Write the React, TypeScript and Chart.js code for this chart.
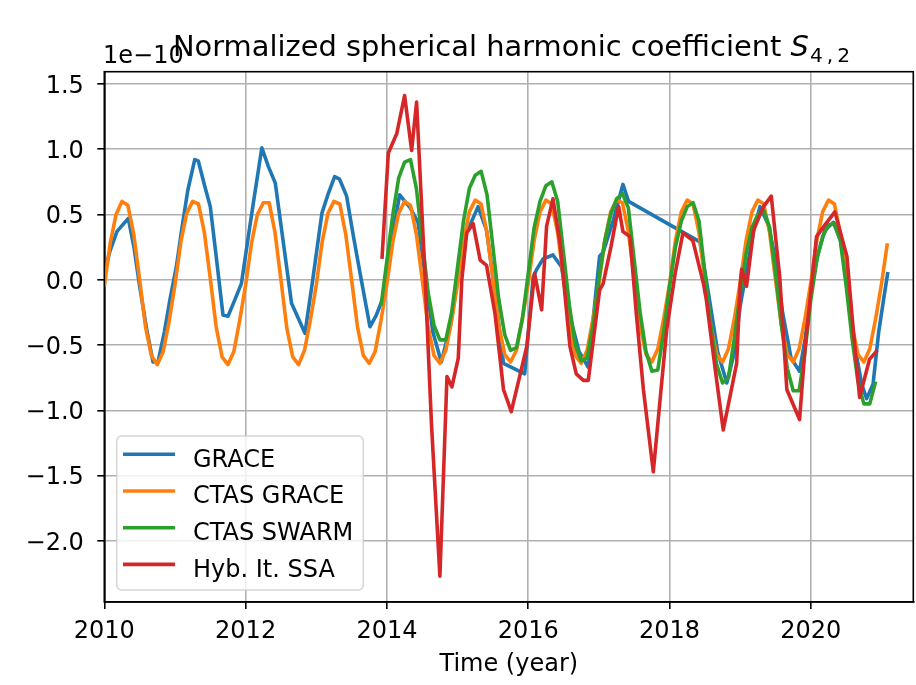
import React, { useEffect, useRef } from 'react';
import { Chart, registerables } from 'chart.js';
Chart.register(...registerables);

// ---- data (values in units of 1e-10) ----
const seriesLabels = ['GRACE', 'CTAS GRACE', 'CTAS SWARM', 'Hyb. It. SSA'];
const seriesColors = ['#1f77b4', '#ff7f0e', '#2ca02c', '#d62728'];

const graceTime = [
  2010.0, 2010.08, 2010.18, 2010.26, 2010.34, 2010.42, 2010.5, 2010.6, 2010.69, 2010.76, 2010.85, 2010.93,
  2011.02, 2011.1, 2011.18, 2011.28, 2011.33, 2011.42, 2011.5, 2011.59, 2011.68, 2011.75, 2011.85, 2011.94,
  2012.03, 2012.11, 2012.23, 2012.32, 2012.42, 2012.53, 2012.65, 2012.75, 2012.84, 2012.95,
  2013.08, 2013.17, 2013.26, 2013.33, 2013.43, 2013.52, 2013.62, 2013.76, 2013.85, 2013.95,
  2014.05, 2014.18, 2014.33, 2014.44, 2014.55, 2014.65, 2014.77, 2014.9,
  2015.0, 2015.12, 2015.29, 2015.41, 2015.53, 2015.65, 2015.95,
  2016.07, 2016.12, 2016.21, 2016.35, 2016.47, 2016.6, 2016.72, 2016.85,
  2017.01, 2017.06, 2017.2, 2017.34, 2017.42,
  2018.43, 2018.55, 2018.68, 2018.81, 2018.92,
  2019.0, 2019.1, 2019.2, 2019.28, 2019.4, 2019.5, 2019.6, 2019.72, 2019.84, 2019.92,
  2020.0, 2020.1, 2020.2, 2020.32, 2020.42, 2020.52, 2020.62, 2020.72, 2020.79, 2020.88, 2020.96,
  2021.03, 2021.09,
];
const graceValues = [
  0.05, 0.22, 0.37, 0.42, 0.47, 0.25, -0.05, -0.38, -0.63, -0.63, -0.4, -0.15,
  0.1, 0.4, 0.68, 0.92, 0.91, 0.72, 0.56, 0.15, -0.27, -0.28, -0.15, -0.03,
  0.3, 0.59, 1.01, 0.87, 0.74, 0.3, -0.18, -0.3, -0.41, 0.0,
  0.51, 0.66, 0.79, 0.77, 0.64, 0.35, 0.05, -0.36, -0.27, -0.13,
  0.25, 0.65, 0.55, 0.44, 0.0, -0.4, -0.63, -0.35,
  0.0, 0.35, 0.56, 0.38, -0.1, -0.64, -0.72,
  0.02, 0.08, 0.16, 0.19, 0.1, -0.3, -0.55, -0.67,
  0.18, 0.21, 0.45, 0.73, 0.6,
  0.29, -0.1, -0.55, -0.79, -0.55,
  -0.2, 0.1, 0.4, 0.56, 0.42, 0.15, -0.25, -0.6, -0.7, -0.45,
  -0.1, 0.2, 0.38, 0.44, 0.3, -0.05, -0.5, -0.8, -0.91, -0.8, -0.4,
  -0.15, 0.06,
];

// monthly series
const ctasGraceStart = 2010.0;
const ctasGraceValues = [
  -0.05, 0.28, 0.50, 0.60, 0.57, 0.35, 0.00, -0.36, -0.58, -0.65, -0.55, -0.32,
  -0.04, 0.29, 0.51, 0.60, 0.58, 0.36, 0.01, -0.36, -0.59, -0.65, -0.55, -0.31,
  -0.04, 0.28, 0.50, 0.59, 0.59, 0.36, 0.00, -0.37, -0.59, -0.65, -0.54, -0.31,
  -0.04, 0.29, 0.51, 0.60, 0.58, 0.35, 0.00, -0.36, -0.58, -0.64, -0.55, -0.31,
  -0.03, 0.29, 0.51, 0.60, 0.57, 0.35, 0.00, -0.36, -0.58, -0.64, -0.54, -0.31,
  -0.03, 0.30, 0.52, 0.61, 0.58, 0.36, 0.01, -0.35, -0.57, -0.63, -0.54, -0.30,
  -0.03, 0.30, 0.52, 0.61, 0.58, 0.36, 0.01, -0.35, -0.58, -0.64, -0.54, -0.30,
  -0.03, 0.30, 0.52, 0.61, 0.59, 0.37, 0.01, -0.35, -0.57, -0.63, -0.53, -0.30,
  -0.03, 0.30, 0.52, 0.61, 0.58, 0.36, 0.00, -0.35, -0.57, -0.63, -0.53, -0.30,
  -0.02, 0.30, 0.52, 0.61, 0.58, 0.36, 0.00, -0.35, -0.57, -0.63, -0.53, -0.30,
  -0.02, 0.30, 0.52, 0.61, 0.58, 0.36, 0.00, -0.35, -0.57, -0.63, -0.53, -0.30,
  -0.03, 0.28,
];

const ctasSwarmStart = 2013.917;
const ctasSwarmValues = [
  -0.2,
  0.15, 0.5, 0.78, 0.9, 0.92, 0.7, 0.3, -0.1, -0.35, -0.46, -0.46, -0.25,
  0.1, 0.45, 0.7, 0.8, 0.83, 0.65, 0.25, -0.15, -0.42, -0.54, -0.52, -0.3,
  0.05, 0.4, 0.6, 0.72, 0.75, 0.6, 0.2, -0.2, -0.5, -0.62, -0.6, -0.35,
  0.0, 0.3, 0.5, 0.62, 0.66, 0.55, 0.15, -0.25, -0.55, -0.7, -0.69, -0.4,
  -0.05, 0.25, 0.45, 0.56, 0.59, 0.45, 0.05, -0.35, -0.65, -0.79, -0.75, -0.45,
  -0.1, 0.2, 0.4, 0.5, 0.53, 0.4, 0.05, -0.35, -0.68, -0.85, -0.85, -0.55,
  -0.15, 0.15, 0.33, 0.42, 0.43, 0.3, -0.05, -0.45, -0.78, -0.95, -0.95, -0.78,
];

const ssaTime = [
  2013.93, 2014.02, 2014.14, 2014.25, 2014.35, 2014.42, 2014.54, 2014.63, 2014.75, 2014.85, 2014.92,
  2015.01, 2015.06, 2015.13, 2015.22, 2015.32, 2015.41, 2015.53, 2015.65, 2015.76, 2015.98,
  2016.09, 2016.19, 2016.26, 2016.35, 2016.45, 2016.59, 2016.68, 2016.78, 2016.85,
  2017.01, 2017.06, 2017.17, 2017.25, 2017.28, 2017.34, 2017.44, 2017.53, 2017.63, 2017.77, 2017.96,
  2018.08, 2018.19, 2018.33, 2018.48, 2018.52, 2018.65, 2018.76, 2018.95,
  2019.0, 2019.02, 2019.09, 2019.19, 2019.33, 2019.44, 2019.56, 2019.66, 2019.84, 2019.92,
  2020.08, 2020.2, 2020.34, 2020.51, 2020.6, 2020.69, 2020.83, 2020.94,
];
const ssaValues = [
  0.16, 0.97, 1.12, 1.41, 0.99, 1.36, 0.02, -1.1, -2.27, -0.74, -0.82,
  -0.6, 0.0, 0.36, 0.43, 0.15, 0.11, -0.26, -0.84, -1.01, -0.51,
  0.05, -0.23, 0.41, 0.62, 0.28, -0.51, -0.72, -0.77, -0.77,
  -0.08, -0.03, 0.25, 0.48, 0.56, 0.37, 0.33, -0.26, -0.84, -1.47, -0.38,
  0.05, 0.36, 0.3, -0.03, -0.15, -0.7, -1.15, -0.64,
  -0.04, 0.08, -0.05, 0.38, 0.56, 0.64, 0.02, -0.84, -1.07, -0.51,
  0.33, 0.42, 0.52, 0.18, -0.38, -0.9, -0.61, -0.54,
];

const xMin = 2010;
const xMax = 2021.45;
const yMin = -2.467;
const yMax = 1.593;
const titleText = 'Normalized spherical harmonic coefficient ';
const titleSymbol = 'S';
const titleSub = '4\u2009,\u20092';
const offsetText = '1e\u221210';
const xLabel = 'Time (year)';

const FAMILY = '"DejaVu Sans", sans-serif';
const FS = 24;

export default function App() {
  const ref = useRef<HTMLCanvasElement>(null);

  useEffect(() => {
    document.body.style.margin = '0';
    const canvas = ref.current;
    if (!canvas) return;

    const pairs = (t: number[], v: number[]) => t.map((x, i) => ({ x, y: v[i] }));
    const monthly = (start: number, v: number[]) => v.map((y, i) => ({ x: start + i / 12, y }));
    const seriesData = [
      pairs(graceTime, graceValues),
      monthly(ctasGraceStart, ctasGraceValues),
      monthly(ctasSwarmStart, ctasSwarmValues),
      pairs(ssaTime, ssaValues),
    ];

    const decor = {
      id: 'decor',
      afterDatasetsDraw(chart: any) {
        const { ctx, chartArea: a } = chart;
        ctx.save();
        // spines
        ctx.strokeStyle = '#000';
        ctx.lineWidth = 1.6;
        ctx.strokeRect(a.left, a.top, a.right - a.left, a.bottom - a.top);

        // legend
        const bx = 116.7, by = 436, bw = 246.6, bh = 154;
        ctx.beginPath();
        ctx.roundRect(bx, by, bw, bh, 5);
        ctx.fillStyle = 'rgba(255,255,255,0.8)';
        ctx.fill();
        ctx.strokeStyle = 'rgba(204,204,204,0.8)';
        ctx.lineWidth = 1.6;
        ctx.stroke();
        ctx.font = `${FS}px ${FAMILY}`;
        ctx.textBaseline = 'alphabetic';
        ctx.textAlign = 'left';
        chart.data.datasets.forEach((ds: any, i: number) => {
          const cy = 454.3 + i * 36.7;
          ctx.strokeStyle = ds.borderColor;
          ctx.lineWidth = 3.6;
          ctx.lineCap = 'butt';
          ctx.beginPath();
          ctx.moveTo(123, cy);
          ctx.lineTo(175, cy);
          ctx.stroke();
          ctx.fillStyle = '#000';
          ctx.fillText(ds.label, 193, cy + 12.2);
        });
        ctx.restore();
      },
      afterDraw(chart: any) {
        const { ctx } = chart;
        ctx.save();
        ctx.fillStyle = '#000';
        ctx.textBaseline = 'alphabetic';
        ctx.textAlign = 'left';
        // offset text
        ctx.font = `${FS}px ${FAMILY}`;
        ctx.fillText(offsetText, 103, 63);
        // title
        const f1 = `28.9px ${FAMILY}`;
        const f2 = `italic 28.9px ${FAMILY}`;
        const f3 = `20.2px ${FAMILY}`;
        ctx.font = f1; const w1 = ctx.measureText(titleText).width;
        ctx.font = f2; const w2 = ctx.measureText(titleSymbol).width;
        ctx.font = f3; const w3 = ctx.measureText(titleSub).width;
        let x = 511 - (w1 + w2 + w3) / 2;
        const base = 55.5;
        ctx.font = f1; ctx.fillText(titleText, x, base); x += w1;
        ctx.font = f2; ctx.fillText(titleSymbol, x, base); x += w2 + 1;
        ctx.font = f3; ctx.fillText(titleSub, x, base + 6);
        ctx.restore();
      },
    };

    const chart = new Chart(canvas, {
      type: 'line',
      data: {
        datasets: seriesLabels.map((label, i) => ({
          label,
          data: seriesData[i],
          borderColor: seriesColors[i],
          backgroundColor: seriesColors[i],
          borderWidth: 3.6,
          pointRadius: 0,
          tension: 0,
          fill: false,
          borderJoinStyle: 'round' as const,
          order: seriesLabels.length - i,
        })),
      },
      options: {
        animation: false,
        responsive: false,
        devicePixelRatio: 1,
        events: [],
        layout: { padding: { left: 0, right: 2.7, top: 71.7, bottom: 0 } },
        plugins: {
          legend: { display: false },
          title: { display: false },
          tooltip: { enabled: false },
        },
        scales: {
          x: {
            type: 'linear',
            min: xMin,
            max: xMax,
            afterFit: (s: any) => { s.height = 83; },
            grid: { color: '#b0b0b0', lineWidth: 1.6, tickColor: '#000', tickWidth: 1.6, tickLength: 7 },
            border: { color: '#000', width: 1.6 },
            ticks: {
              stepSize: 2,
              includeBounds: false,
              maxRotation: 0,
              autoSkip: false,
              padding: 7.9,
              color: '#000',
              font: { family: 'DejaVu Sans', size: FS },
              callback: (v: any) => String(Math.round(Number(v))),
            },
            title: {
              display: true,
              text: xLabel,
              color: '#000',
              font: { family: 'DejaVu Sans', size: FS },
              padding: { top: 0, bottom: 5.6 },
            },
          },
          y: {
            type: 'linear',
            min: yMin,
            max: yMax,
            afterFit: (s: any) => { s.width = 104.3; },
            grid: { color: '#b0b0b0', lineWidth: 1.6, tickColor: '#000', tickWidth: 1.6, tickLength: 7 },
            border: { color: '#000', width: 1.6 },
            ticks: {
              stepSize: 0.5,
              includeBounds: false,
              autoSkip: false,
              padding: 13.5,
              labelOffset: 2.5,
              color: '#000',
              font: { family: 'DejaVu Sans', size: FS },
              callback: (v: any) => {
                const n = Number(v);
                const s = (Math.abs(n) < 1e-9 ? 0 : n).toFixed(1);
                return s.replace('-', '\u2212');
              },
            },
          },
        },
      },
      plugins: [decor],
    } as any);

    return () => chart.destroy();
  }, []);

  return (
    <canvas
      ref={ref}
      width={916}
      height={685}
      style={{ display: 'block', width: '916px', height: '685px' }}
    />
  );
}
